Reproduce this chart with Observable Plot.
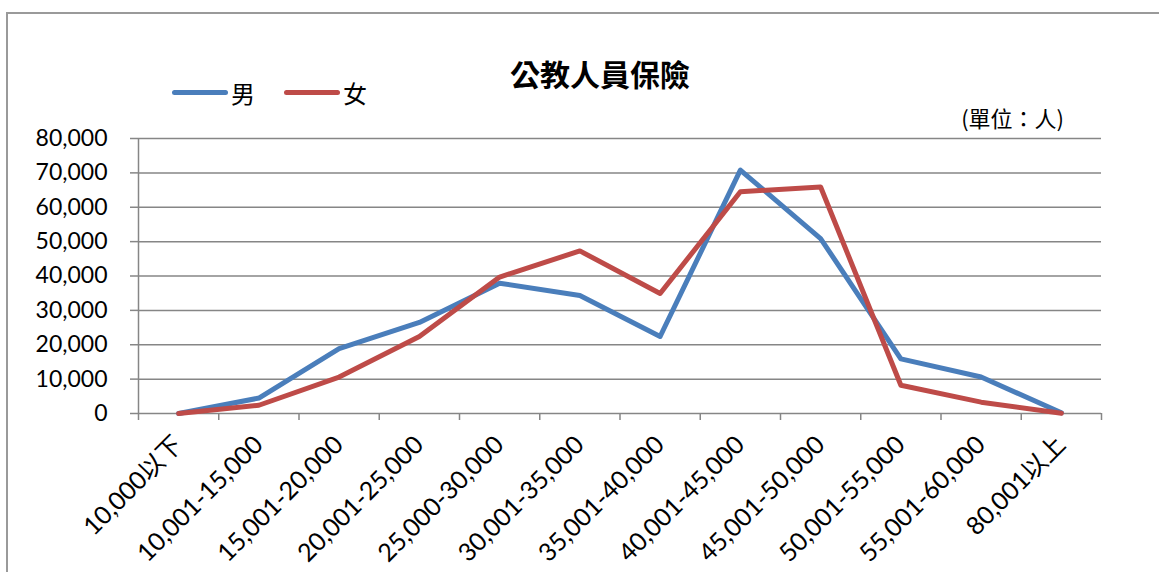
<!DOCTYPE html>
<html>
<head>
<meta charset="utf-8">
<script src="https://cdn.jsdelivr.net/npm/d3@7"></script>
<script src="https://cdn.jsdelivr.net/npm/@observablehq/plot@0.6"></script>
<style>
  html, body { margin: 0; padding: 0; background: #fff; overflow: hidden; }
  #chart { position: relative; width: 1159px; height: 572px; overflow: hidden; background: #fff; }
  #frame { position: absolute; left: 6px; top: 12px; width: 2000px; height: 2000px;
           border: 2px solid #9a9a9a; box-sizing: border-box; }
  #header { position: absolute; left: 0; top: 0; width: 1159px; height: 130px; }
  #title { position: absolute; left: 600px; top: 57px; transform: translateX(-50%);
           font: 700 30px/32px "Noto Sans CJK TC", sans-serif; color: #000; white-space: nowrap; }
  .key { position: absolute; top: 90px; width: 56px; height: 5px; border-radius: 3px; }
  .keylabel { position: absolute; top: 80px; font: 400 24px/26px "Noto Sans CJK TC", sans-serif; color: #000; }
  #unit { position: absolute; right: 95px; top: 104px; font: 400 22px/26px "Noto Sans CJK TC", sans-serif;
          color: #000; white-space: nowrap; }
  #plot { position: absolute; left: 0; top: 130px; }
</style>
</head>
<body>
<div id="chart">
  <div id="frame"></div>
  <div id="header">
    <div id="title"></div>
    <div id="legend"></div>
    <div id="unit"></div>
  </div>
  <div id="plot"></div>
</div>
<script>
// Insured persons by monthly insured salary bracket, split by sex
const titleText = "公教人員保險";
const unitText = "(單位：人)";
const categories = [
  "10,000以下", "10,001-15,000", "15,001-20,000", "20,001-25,000",
  "25,000-30,000", "30,001-35,000", "35,001-40,000", "40,001-45,000",
  "45,001-50,000", "50,001-55,000", "55,001-60,000", "80,001以上"
];
const seriesNames = ["男", "女"];
const seriesColors = ["#4A7EBB", "#BE4B48"];
const male   = [0, 4500, 18900, 26500, 37900, 34300, 22400, 70800, 50900, 15900, 10600, 200];
const female = [0, 2400, 10600, 22400, 39700, 47300, 34900, 64500, 65900, 8200, 3300, 100];
const yTicks = [0, 10000, 20000, 30000, 40000, 50000, 60000, 70000, 80000];

// long-format table for the line mark
const rows = categories.flatMap((c, i) => [
  {i, sex: seriesNames[0], v: male[i]},
  {i, sex: seriesNames[1], v: female[i]}
]);

// header: title, legend, unit note
document.getElementById("title").textContent = titleText;
document.getElementById("unit").textContent = unitText;
const legend = document.getElementById("legend");
const keyLeft = [172, 284];
seriesNames.forEach((name, k) => {
  const sw = document.createElement("div");
  sw.className = "key";
  sw.style.left = keyLeft[k] + "px";
  sw.style.background = seriesColors[k];
  legend.appendChild(sw);
  const lab = document.createElement("div");
  lab.className = "keylabel";
  lab.style.left = (keyLeft[k] + 59) + "px";
  lab.textContent = name;
  legend.appendChild(lab);
});

const grey = "#868686";
const boundaries = d3.range(categories.length + 1).map(k => k - 0.5);

const chart = Plot.plot({
  width: 1159,
  height: 442,
  marginTop: 8,
  marginBottom: 159,
  marginLeft: 138,
  marginRight: 58,
  style: {
    fontFamily: "Lato, 'Noto Sans CJK TC', sans-serif",
    fontSize: "23px",
    color: "#000",
    background: "transparent",
    overflow: "visible"
  },
  x: {type: "linear", domain: [-0.5, categories.length - 0.5]},
  y: {domain: [0, 80000]},
  color: {domain: seriesNames, range: seriesColors},
  marks: [
    Plot.gridY(yTicks, {stroke: grey, strokeOpacity: 1, strokeWidth: 1.5}),
    Plot.ruleX([-0.5], {stroke: grey, strokeWidth: 1.5}),
    Plot.axisY({
      ticks: yTicks, tickSize: 8, tickPadding: 23, tickFormat: d3.format(","),
      stroke: grey, strokeWidth: 1.5, fill: "#000", label: null, fontSize: 23
    }),
    Plot.axisX({
      ticks: boundaries, tickSize: 7, tickFormat: () => "",
      stroke: grey, strokeWidth: 1.5, label: null
    }),
    Plot.axisX({
      ticks: d3.range(categories.length), tickSize: 0, tickPadding: 27, tickRotate: -45,
      tickFormat: i => categories[i], fill: "#000", label: null, fontSize: 25
    }),
    Plot.line(rows, {
      x: "i", y: "v", z: "sex", stroke: "sex",
      strokeWidth: 5, strokeLinejoin: "round", strokeLinecap: "round"
    })
  ]
});
document.getElementById("plot").appendChild(chart);
</script>
</body>
</html>
